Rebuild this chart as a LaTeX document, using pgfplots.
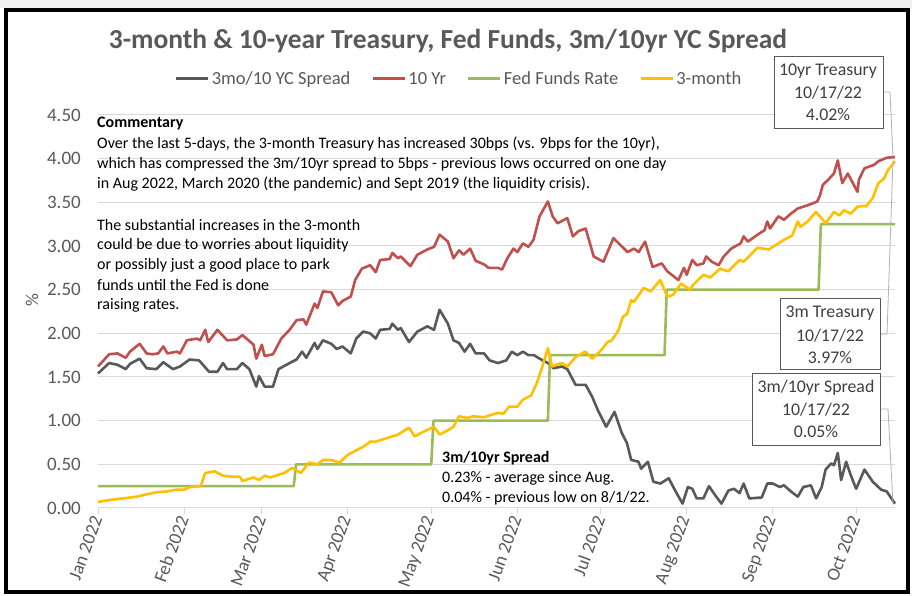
\documentclass[border=0pt]{standalone}
\usepackage{fontspec}
\setmainfont{Carlito}
\usepackage{pgfplots}
\pgfplotsset{compat=1.18}
\definecolor{txtgray}{HTML}{595959}
\definecolor{boxtxt}{HTML}{404040}
\definecolor{gridc}{HTML}{D9D9D9}
\definecolor{sgray}{HTML}{595959}
\definecolor{sred}{HTML}{C0504D}
\definecolor{sgreen}{HTML}{9BBB59}
\definecolor{syel}{HTML}{FFC000}
\newcommand\fs[2]{\fontsize{#1bp}{#2bp}\selectfont}
\begin{document}
\begin{tikzpicture}[x=1bp,y=1bp]
\useasboundingbox (0,0) rectangle (912,596);
\fill[white] (0,0) rectangle (912,596);
\fill[gray!12] (0,588) rectangle (912,596);
\begin{axis}[
  at={(98bp,88bp)}, anchor=south west,
  scale only axis, width=797bp, height=393bp,
  xmin=0, xmax=287, ymin=0, ymax=4.5,
  axis lines*=left,
  x axis line style={draw=gridc, line width=1bp},
  y axis line style={draw=none},
  ymajorgrids, grid style={draw=gridc, line width=1bp},
  ytick={0,0.5,1,1.5,2,2.5,3,3.5,4,4.5},
  /pgf/number format/assume math mode=true,
  yticklabel style={/pgf/number format/fixed, /pgf/number format/fixed zerofill, /pgf/number format/precision=2, font=\fs{19}{22}, text=txtgray, anchor=east, inner sep=0pt, xshift=-11bp},
  ytick style={draw=none},
  xtick={0,31,59,90,120,151,181,212,243,273},
  xticklabels={Jan 2022,Feb 2022,Mar 2022,Apr 2022,May 2022,Jun 2022,Jul 2022,Aug 2022,Sep 2022,Oct 2022},
  xtick style={draw=gridc, line width=1bp},
  tick align=outside, major tick length=6bp,
  xticklabel style={font=\fs{18.5}{21}, text=txtgray, rotate=70, anchor=east, inner sep=3bp},
  clip=false,
  legend style={at={(0.453,1.0916)}, anchor=center, draw=none, fill=none, legend columns=4, font=\fs{18.5}{21}, text=txtgray, /tikz/every even column/.append style={column sep=19bp}},
  legend cell align=left,
  legend image code/.code={\draw[#1, line width=3bp] (0bp,0bp) -- (32bp,0bp);},
  every axis plot/.append style={line width=2.6bp, line join=round, no markers},
]
\addplot[sgray] coordinates {
(0,1.54)(4,1.66)(7,1.64)(10,1.59)(11.5,1.65)(15,1.71)(17.5,1.60)(21,1.59)(23.5,1.67)(27,1.59)(29.5,1.62)(33,1.70)(36.4,1.69)(40,1.56)(43,1.56)(45,1.66)(46.5,1.59)(50,1.59)(52,1.66)(54.5,1.59)(57,1.39)(58,1.51)(60,1.39)(63,1.39)(65,1.59)(69,1.66)(71.5,1.70)(73.5,1.79)(75,1.72)(78,1.89)(79,1.82)(81,1.92)(84,1.88)(86,1.82)(88,1.85)(91,1.77)(93,1.94)(95.5,2.02)(98,2.00)(100,1.94)(101.6,2.04)(105,2.05)(106,2.11)(108,2.04)(109,2.06)(112,1.90)(115,2.02)(118.6,2.08)(121,2.04)(123,2.27)(126,2.11)(128,1.92)(130,1.89)(132,1.79)(134,1.88)(136,1.77)(139,1.77)(141,1.69)(144,1.66)(147,1.69)(149,1.79)(151,1.75)(153,1.79)(155,1.75)(157,1.75)(159,1.71)(162,1.66)(164,1.60)(167,1.62)(169,1.59)(172,1.41)(175.6,1.41)(178,1.27)(180,1.12)(183,0.93)(186,1.10)(188.6,0.86)(190.5,0.74)(192,0.55)(194.6,0.53)(195.6,0.45)(198,0.53)(200,0.30)(202.5,0.28)(205.5,0.34)(208,0.19)(210.5,0.05)(212.4,0.24)(214,0.22)(215.6,0.11)(218,0.11)(220,0.25)(222.6,0.13)(224.5,0.05)(227,0.20)(229,0.22)(231,0.17)(232.5,0.28)(234.5,0.11)(239,0.12)(241,0.28)(243,0.28)(245.5,0.24)(247,0.26)(249.5,0.19)(252,0.13)(254,0.24)(256.7,0.26)(258.6,0.11)(260.6,0.24)(262,0.44)(264,0.51)(265,0.49)(266.4,0.63)(267.6,0.32)(269.4,0.53)(271,0.38)(273,0.22)(276,0.44)(279,0.30)(282,0.21)(284,0.19)(287,0.05)
};
\addlegendentry{3mo/10 YC Spread}
\addplot[sred] coordinates {
(0,1.62)(2,1.69)(4,1.76)(7,1.77)(10,1.72)(11.5,1.79)(15,1.88)(17.5,1.77)(19.5,1.76)(21.7,1.77)(23.5,1.85)(25,1.77)(28.4,1.79)(29.5,1.77)(32,1.92)(35.6,1.94)(36.8,1.92)(38.6,2.04)(39.7,1.90)(43,2.04)(46.5,1.92)(50,1.93)(52,1.98)(56,1.87)(57,1.71)(59,1.87)(60,1.74)(63,1.76)(66,1.94)(69,2.04)(71.5,2.15)(74,2.16)(75,2.10)(78,2.34)(79,2.29)(81,2.48)(84,2.47)(86.5,2.32)(88,2.37)(91,2.42)(92.6,2.61)(95,2.74)(98,2.78)(100,2.70)(101.6,2.84)(105,2.85)(106,2.92)(108,2.86)(109,2.88)(112.5,2.77)(115,2.90)(118.6,2.96)(121,2.99)(123,3.13)(126,3.05)(128,2.86)(130,2.95)(131.6,2.90)(134,2.97)(136,2.83)(139,2.79)(140.6,2.75)(144,2.75)(145.5,2.73)(147.4,2.86)(149.6,2.97)(151,2.93)(153,3.03)(155,2.99)(156.8,3.07)(159,3.34)(162,3.51)(163.7,3.34)(165.5,3.26)(169,3.32)(171,3.11)(173,3.17)(175.6,3.20)(178.5,2.88)(182,2.82)(185.6,3.09)(190.7,2.93)(193,2.97)(194.7,2.93)(197,3.05)(199.7,2.76)(203,2.80)(205,2.71)(209,2.61)(211,2.75)(212,2.67)(214,2.84)(215.6,2.78)(218,2.80)(219,2.88)(221,2.82)(223.5,2.78)(225.3,2.88)(228,2.97)(231.4,3.03)(232.5,3.11)(234,3.05)(237.5,3.13)(240,3.18)(241,3.28)(242,3.20)(245,3.34)(247,3.30)(249.5,3.37)(252,3.43)(254,3.45)(256.7,3.48)(259,3.51)(260,3.58)(261,3.70)(263,3.76)(265,3.83)(266.4,3.98)(268,3.72)(270,3.83)(273.5,3.62)(274,3.76)(276,3.89)(279.5,3.93)(281,3.97)(281.7,3.98)(284,4.01)(287,4.02)
};
\addlegendentry{10 Yr}
\addplot[sgreen] coordinates {
(0,0.25)(70.5,0.25)(71.3,0.5)(120,0.5)(120.8,1.0)(162,1.0)(162.8,1.75)(204,1.75)(204.8,2.5)(259.5,2.5)(260.3,3.25)(287,3.25)
};
\addlegendentry{Fed Funds Rate}
\addplot[syel] coordinates {
(0,0.07)(4,0.09)(9,0.11)(14,0.13)(18,0.16)(21,0.18)(25,0.19)(28,0.21)(31,0.21)(33,0.24)(37,0.25)(38.6,0.40)(42,0.42)(45,0.37)(48,0.36)(51,0.36)(52,0.31)(54,0.33)(56,0.35)(58,0.32)(60,0.37)(62,0.35)(64,0.37)(67,0.40)(70,0.46)(72,0.42)(73,0.40)(76,0.52)(79,0.50)(81,0.55)(84,0.55)(87,0.52)(90,0.61)(93,0.66)(96,0.71)(98,0.76)(100,0.76)(104,0.80)(108,0.84)(110,0.88)(112,0.92)(114,0.82)(117,0.87)(121,0.93)(123,0.84)(126,0.89)(128,0.93)(130,1.05)(133,1.03)(135,1.05)(139,1.04)(142,1.07)(144,1.09)(146,1.08)(148,1.16)(151,1.16)(153,1.24)(156,1.29)(158,1.43)(160,1.62)(162,1.83)(163.5,1.62)(165,1.64)(167,1.66)(169,1.62)(172,1.73)(175.5,1.79)(178,1.71)(181,1.80)(183.5,1.90)(185,1.92)(187.5,2.04)(189,2.19)(190.5,2.22)(192,2.38)(193,2.36)(196.5,2.52)(199,2.48)(202.5,2.61)(205,2.42)(207,2.44)(210,2.57)(213,2.50)(214.5,2.56)(218,2.67)(220.5,2.64)(224,2.74)(227,2.71)(231,2.84)(232.5,2.82)(237.5,2.98)(241.5,2.96)(247,3.07)(250,3.12)(252,3.28)(253,3.22)(255.5,3.28)(258.5,3.39)(261,3.30)(262,3.26)(265,3.39)(267,3.35)(268.6,3.41)(271,3.37)(273.5,3.45)(276,3.46)(276.5,3.45)(279,3.55)(281,3.72)(283,3.77)(284.5,3.87)(287,3.97)
};
\addlegendentry{3-month}
\end{axis}
% title
\node[font=\bfseries\fs{27.5}{31}, text=txtgray] at (448,{596-41}) {3-month \& 10-year Treasury, Fed Funds, 3m/10yr YC Spread};
% y label
\node[rotate=90, font=\fs{18}{21}, text=txtgray] at (32,{596-300}) {\%};
% commentary
\begin{scope}[every node/.style={anchor=west, inner sep=0pt, font=\fs{16}{20}, text=black}]
\node[font=\bfseries\fs{16}{20}] at (97,{596-124}) {Commentary};
\node at (97,{596-144}) {Over the last 5-days, the 3-month Treasury has increased 30bps (vs. 9bps for the 10yr),};
\node at (97,{596-164}) {which has compressed the 3m/10yr spread to 5bps - previous lows occurred on one day};
\node at (97,{596-184}) {in Aug 2022, March 2020 (the pandemic) and Sept 2019 (the liquidity crisis).};
\node at (97,{596-225}) {The substantial increases in the 3-month};
\node at (97,{596-245}) {could be due to worries about liquidity};
\node at (97,{596-265}) {or possibly just a good place to park};
\node at (97,{596-285}) {funds until the Fed is done};
\node at (97,{596-305}) {raising rates.};
\node[font=\bfseries\fs{16}{20}] at (442,{596-458}) {3m/10yr Spread};
\node at (442,{596-478}) {0.23\% - average since Aug.};
\node at (442,{596-498}) {0.04\% - previous low on 8/1/22.};
\end{scope}
% callouts
\draw[gray!60, line width=0.8bp] (883,{596-92}) -- (890,{596-92}) -- (893,{596-157});
\draw[gray!60, line width=0.8bp] (880,{596-334}) -- (887,{596-334}) -- (893,{596-160});
\draw[gray!60, line width=0.8bp] (880,{596-409}) -- (888,{596-409}) -- (893,{596-505});
\draw[gray!70!black, line width=0.9bp, fill=white] (774,{596-56}) rectangle (883,{596-128});
\draw[gray!70!black, line width=0.9bp, fill=white] (780,{596-298}) rectangle (880,{596-369});
\draw[gray!70!black, line width=0.9bp, fill=white] (752,{596-373}) rectangle (880,{596-445});
\begin{scope}[every node/.style={inner sep=0pt, font=\fs{17.8}{22}, text=boxtxt}]
\node at (828,{596-71}) {10yr Treasury};
\node at (828,{596-93}) {10/17/22};
\node at (828,{596-115}) {4.02\%};
\node at (830,{596-313}) {3m Treasury};
\node at (830,{596-336}) {10/17/22};
\node at (830,{596-358}) {3.97\%};
\node at (816,{596-388}) {3m/10yr Spread};
\node at (816,{596-410}) {10/17/22};
\node at (816,{596-432}) {0.05\%};
\end{scope}
% frame
\draw[black, line width=3.5bp] (6,4) rectangle (908,586);
\end{tikzpicture}
\end{document}
